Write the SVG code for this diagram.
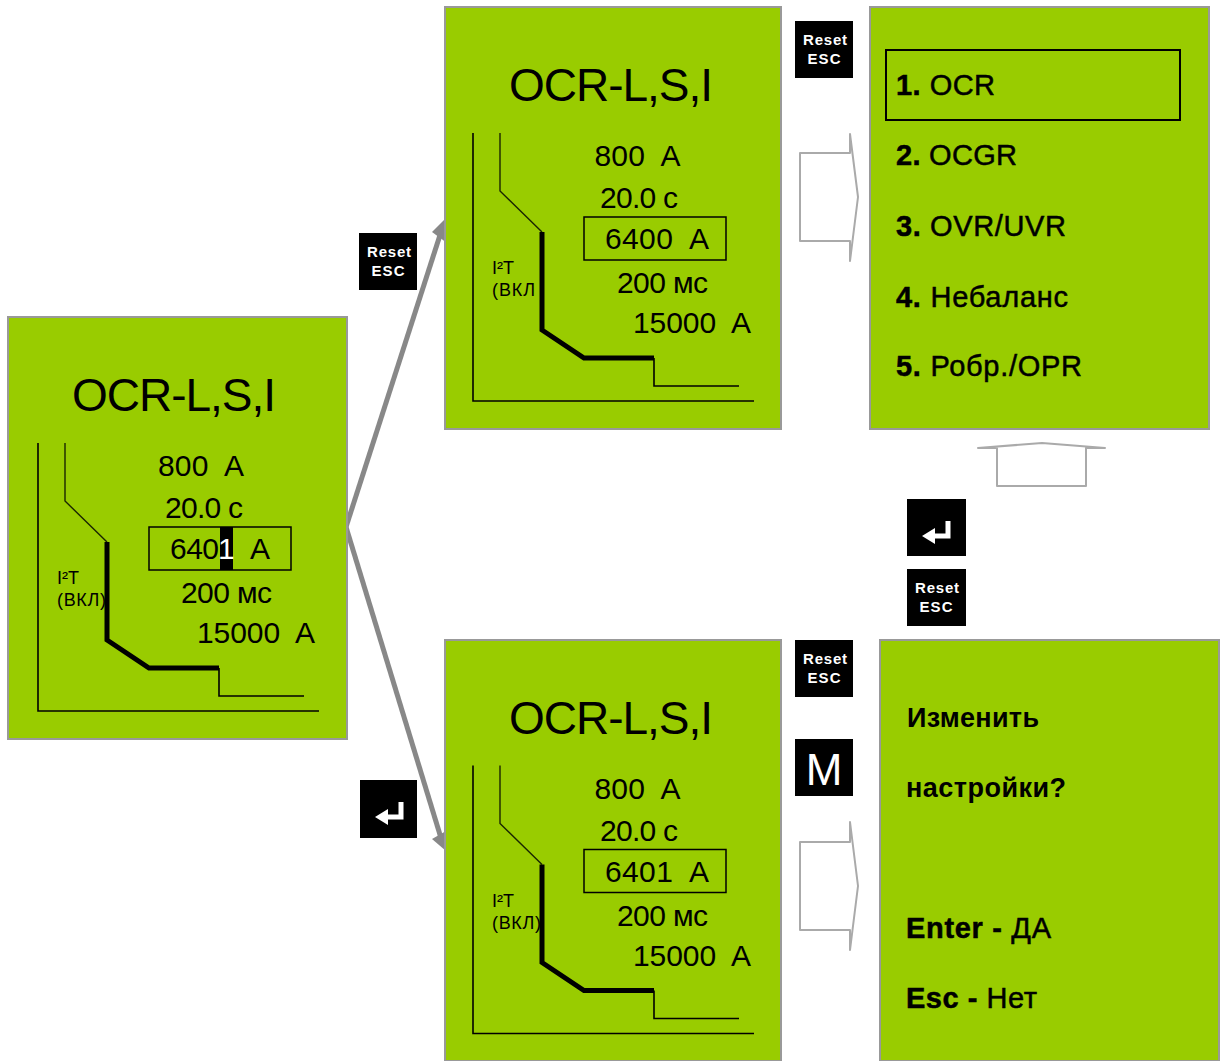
<svg xmlns="http://www.w3.org/2000/svg" width="1220" height="1061" viewBox="0 0 1220 1061">
<style>
text{font-family:"Liberation Sans",Arial,sans-serif;fill:#000;white-space:pre}
.panel{fill:#99cc00;stroke:#999;stroke-width:2}
.thin{fill:none;stroke:#1a2600;stroke-width:1.4}
.axis{fill:none;stroke:#000;stroke-width:1.6}
.thick{fill:none;stroke:#000;stroke-width:5}
.box{fill:none;stroke:#000;stroke-width:1.5}
.title{font-size:46px}
.val{font-size:30px}
.small{font-size:18px}
.menu{font-size:29px;stroke:#000;stroke-width:.5}
.b{font-weight:bold}
.key{fill:#000}
.keytext{fill:#fff;font-weight:bold;font-size:15px;text-anchor:middle}
.hollow{fill:#fff;stroke:#aaa;stroke-width:2;stroke-linejoin:round}
.conn{fill:none;stroke:#888;stroke-width:5}
.head{fill:#888}
</style>
<defs>
<g id="enterIcon"><path d="M41 22V37H24" fill="none" stroke="#fff" stroke-width="5"/><polygon points="15,37 28,29 28,45" fill="#fff"/></g>
<g id="curve">
<path class="axis" d="M38 443V711H319"/>
<path class="thin" d="M65 443V501L107 542"/>
<path class="thick" d="M107 542V640L149 668H219"/>
<path class="axis" d="M219 668V696H304"/>
<rect class="box" x="149" y="527" width="142" height="43"/>
</g>
</defs>

<g id="connectors">
<path class="conn" d="M346 527L441 232"/>
<polygon class="head" points="445,219 447,243 432,232"/>
<path class="conn" d="M346 527L441 838"/>
<polygon class="head" points="446,851 432,839 446,831"/>
</g>

<g id="lcd-left">
<rect class="panel" x="8" y="317" width="339" height="422"/>
<text class="title" x="72" y="411" textLength="204">OCR-L,S,I</text>
<use href="#curve"/>
<text class="val" x="158" y="476" textLength="86">800  A</text>
<text class="val" x="165" y="518" textLength="78">20.0 с</text>
<rect x="220" y="527" width="13" height="43" fill="#000"/>
<text class="val" x="170" y="559" textLength="49">640</text>
<text class="val" x="218" y="559" style="fill:#fff">1</text>
<text class="val" x="250" y="559">A</text>
<text class="val" x="181" y="603" textLength="91">200 мс</text>
<text class="val" x="197" y="643" textLength="118">15000  A</text>
<text class="small" x="57" y="584">I²T</text>
<text class="small" x="57" y="606" textLength="49">(ВКЛ)</text>
</g>

<g id="lcd-top" transform="translate(435 -310)">
<rect class="panel" x="10" y="317" width="336" height="422"/>
<text class="title" x="74" y="411" textLength="204">OCR-L,S,I</text>
<use href="#curve"/>
<text class="val" x="159.500" y="476" textLength="86">800  A</text>
<text class="val" x="165" y="518" textLength="78">20.0 с</text>
<text class="val" x="170" y="559" textLength="104">6400  A</text>
<text class="val" x="182" y="603" textLength="91">200 мс</text>
<text class="val" x="198" y="643" textLength="118">15000  A</text>
<text class="small" x="57" y="584">I²T</text>
<text class="small" x="57" y="606" textLength="43">(ВКЛ</text>
</g>

<g id="lcd-bottom" transform="translate(435 322.500)">
<rect class="panel" x="10" y="317.500" width="336" height="421"/>
<text class="title" x="74" y="411" textLength="204">OCR-L,S,I</text>
<use href="#curve"/>
<text class="val" x="159.500" y="476" textLength="86">800  A</text>
<text class="val" x="165" y="518" textLength="78">20.0 с</text>
<text class="val" x="170" y="559" textLength="104">6401  A</text>
<text class="val" x="182" y="603" textLength="91">200 мс</text>
<text class="val" x="198" y="643" textLength="118">15000  A</text>
<text class="small" x="57" y="584">I²T</text>
<text class="small" x="57" y="606" textLength="49">(ВКЛ)</text>
</g>

<g id="menu">
<rect class="panel" x="870" y="7" width="339" height="422"/>
<rect class="box" x="886" y="50" width="294" height="70" style="stroke-width:2"/>
<text class="menu" x="896" y="95" textLength="99"><tspan class="b">1.</tspan> OCR</text>
<text class="menu" x="896" y="165" textLength="121"><tspan class="b">2.</tspan> OCGR</text>
<text class="menu" x="896" y="236" textLength="170"><tspan class="b">3.</tspan> OVR/UVR</text>
<text class="menu" x="896" y="307" textLength="172"><tspan class="b">4.</tspan> Небаланс</text>
<text class="menu" x="896" y="376" textLength="186"><tspan class="b">5.</tspan> Робр./OPR</text>
</g>

<g id="confirm">
<rect class="panel" x="880" y="640" width="339" height="421"/>
<text class="menu" x="907" y="727" textLength="132" style="font-weight:bold;font-size:27px;stroke-width:0">Изменить</text>
<text class="menu" x="906" y="797" textLength="160" style="font-weight:bold;font-size:27px;stroke-width:0">настройки?</text>
<text class="menu" x="906" y="938" textLength="145"><tspan class="b">Enter -</tspan> ДА</text>
<text class="menu" x="906" y="1008" textLength="131"><tspan class="b">Esc -</tspan> Нет</text>
</g>

<g id="key-reset-1"><rect class="key" x="795" y="21" width="58" height="57"/><text class="keytext" x="825" y="45" textLength="44">Reset</text><text class="keytext" x="824" y="64" textLength="33">ESC</text></g>
<g id="key-reset-2"><rect class="key" x="359" y="233" width="58" height="57"/><text class="keytext" x="389" y="257" textLength="44">Reset</text><text class="keytext" x="388" y="276" textLength="33">ESC</text></g>
<g id="key-enter-1"><rect class="key" x="907" y="499" width="59" height="57"/><use href="#enterIcon" x="907" y="499"/></g>
<g id="key-reset-3"><rect class="key" x="907" y="569" width="59" height="57"/><text class="keytext" x="937" y="593" textLength="44">Reset</text><text class="keytext" x="936" y="612" textLength="33">ESC</text></g>
<g id="key-reset-4"><rect class="key" x="795" y="640" width="58" height="57"/><text class="keytext" x="825" y="664" textLength="44">Reset</text><text class="keytext" x="824" y="683" textLength="33">ESC</text></g>
<g id="key-m"><rect class="key" x="795" y="739" width="58" height="57"/><text x="824" y="785" text-anchor="middle" style="fill:#fff;font-size:44px">M</text></g>
<g id="key-enter-2"><rect class="key" x="360" y="780" width="57" height="58"/><use href="#enterIcon" x="360" y="780"/></g>

<g id="arrow-right-1"><polygon class="hollow" points="800,153 850,153 850,134 858,197 850,261 850,241 800,241"/></g>
<g id="arrow-right-2"><polygon class="hollow" points="800,842 850,842 850,822 858,886 850,950 850,930 800,930"/></g>
<g id="arrow-up"><polygon class="hollow" points="997,486 997,448 978,448 1042,443 1105,448 1086,448 1086,486"/></g>
</svg>
